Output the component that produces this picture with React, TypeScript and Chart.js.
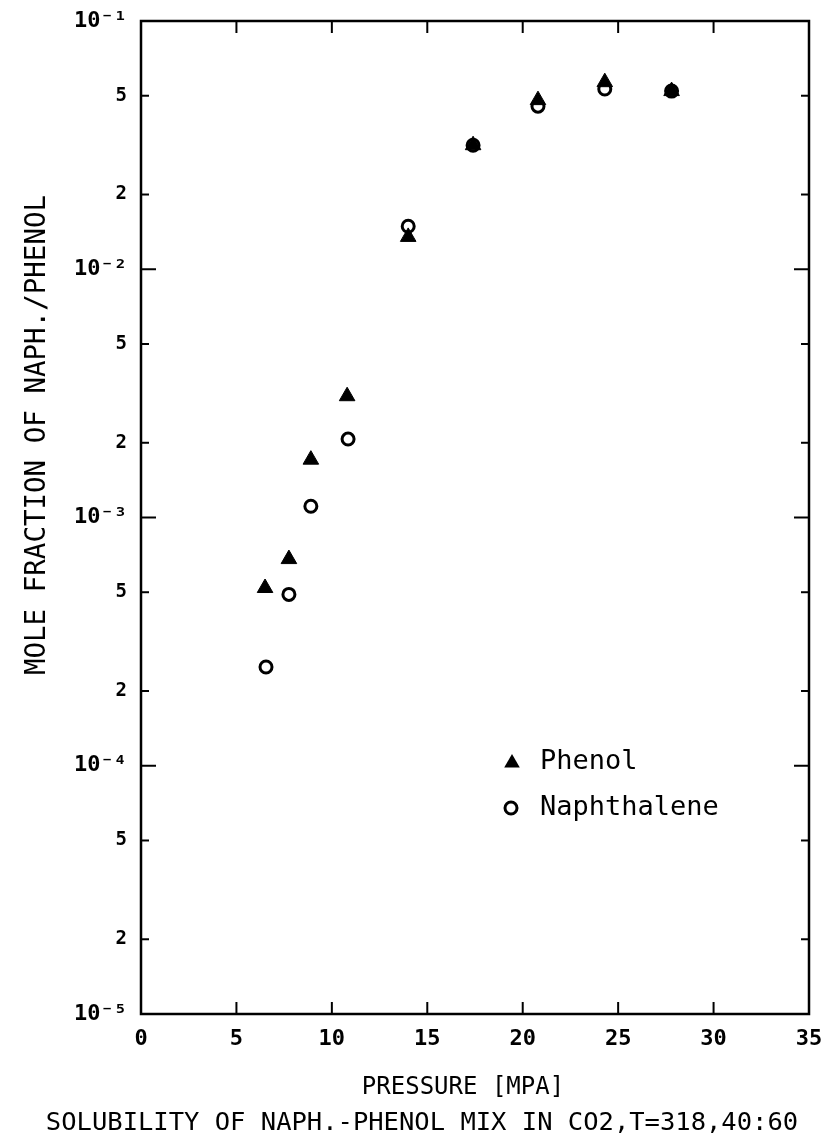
import React, { useEffect, useRef } from 'react';
import { Chart, registerables } from 'chart.js';

Chart.register(...registerables);

// ---- data ----
const phenolPressure = [6.5, 7.75, 8.9, 10.8, 14.0, 17.4, 20.8, 24.3, 27.8];
const phenolFraction = [5.2e-4, 6.8e-4, 1.71e-3, 3.08e-3, 1.35e-2, 3.16e-2, 4.8e-2, 5.67e-2, 5.22e-2];
const naphPressure = [6.55, 7.75, 8.9, 10.85, 14.0, 17.4, 20.8, 24.3, 27.8];
const naphFraction = [2.5e-4, 4.9e-4, 1.11e-3, 2.07e-3, 1.49e-2, 3.16e-2, 4.54e-2, 5.32e-2, 5.22e-2];

const xTicks = [0, 5, 10, 15, 20, 25, 30, 35];
const yTicks = [1e-5, 2e-5, 5e-5, 1e-4, 2e-4, 5e-4, 1e-3, 2e-3, 5e-3, 1e-2, 2e-2, 5e-2, 1e-1];
const yTickLabels = ['10⁻⁵', '2', '5', '10⁻⁴', '2', '5', '10⁻³', '2', '5', '10⁻²', '2', '5', '10⁻¹'];

const seriesLabels = ['Phenol', 'Naphthalene'];
const xTitle = 'PRESSURE [MPA]';
const yTitle = 'MOLE FRACTION OF NAPH./PHENOL';
const caption = 'SOLUBILITY OF NAPH.-PHENOL MIX IN CO2,T=318,40:60';

const MONO = '"DejaVu Sans Mono", "Liberation Mono", monospace';

const isDecade = (v: number) => Math.abs(Math.log10(v) - Math.round(Math.log10(v))) < 1e-6;

function drawTriangle(ctx: CanvasRenderingContext2D, x: number, y: number, r: number) {
  ctx.beginPath();
  for (let i = 0; i < 3; i++) {
    const a = (i * 2 * Math.PI) / 3;
    const px = x + Math.sin(a) * r;
    const py = y - Math.cos(a) * r;
    if (i === 0) ctx.moveTo(px, py);
    else ctx.lineTo(px, py);
  }
  ctx.closePath();
  ctx.fillStyle = '#000';
  ctx.fill();
}

function drawCircle(ctx: CanvasRenderingContext2D, x: number, y: number, r: number) {
  ctx.beginPath();
  ctx.arc(x, y, r, 0, Math.PI * 2);
  ctx.fillStyle = '#fff';
  ctx.fill();
  ctx.lineWidth = 3;
  ctx.strokeStyle = '#000';
  ctx.stroke();
}

const framePlugin = {
  id: 'frameAndText',
  afterDraw(chart: any) {
    const { ctx, chartArea } = chart;
    const { left, right, top, bottom } = chartArea;
    const xs = chart.scales.x;
    const ys = chart.scales.y;
    ctx.save();
    ctx.strokeStyle = '#000';
    ctx.lineWidth = 2.5;
    ctx.strokeRect(left, top, right - left, bottom - top);

    ctx.lineWidth = 2;
    const line = (x1: number, y1: number, x2: number, y2: number) => {
      ctx.beginPath();
      ctx.moveTo(x1, y1);
      ctx.lineTo(x2, y2);
      ctx.stroke();
    };
    xs.ticks.forEach((t: any) => {
      const px = xs.getPixelForValue(t.value);
      if (px <= left + 1 || px >= right - 1) return;
      line(px, bottom, px, bottom - 12);
      line(px, top, px, top + 12);
    });
    ys.ticks.forEach((t: any) => {
      const py = ys.getPixelForValue(t.value);
      if (py <= top + 1 || py >= bottom - 1) return;
      const len = isDecade(t.value) ? 15 : 8;
      line(left, py, left + len, py);
      line(right, py, right - len, py);
    });

    // axis titles and caption
    ctx.fillStyle = '#000';
    ctx.textAlign = 'center';
    ctx.textBaseline = 'middle';
    ctx.font = `24px ${MONO}`;
    ctx.fillText(xTitle, 455, 1080);
    ctx.font = `25.5px ${MONO}`;
    ctx.fillText(caption, 414, 1115);

    ctx.save();
    ctx.translate(30, 427);
    ctx.rotate(-Math.PI / 2);
    ctx.font = `27.5px ${MONO}`;
    ctx.fillText(yTitle, 0, 0);
    ctx.restore();

    // legend
    drawTriangle(ctx, 504, 755, 9);
    drawCircle(ctx, 503, 800, 6);
    ctx.fillStyle = '#000';
    ctx.textAlign = 'left';
    ctx.textBaseline = 'middle';
    ctx.font = `27px ${MONO}`;
    ctx.fillText(seriesLabels[0], 532, 754);
    ctx.fillText(seriesLabels[1], 532, 800);
    ctx.restore();
  },
};

export default function App() {
  const ref = useRef<HTMLCanvasElement>(null);
  useEffect(() => {
    if (!ref.current) return;
    const chart = new Chart(ref.current, {
      type: 'scatter',
      data: {
        datasets: [
          {
            label: seriesLabels[0],
            data: phenolPressure.map((p, i) => ({ x: p, y: phenolFraction[i] })),
            pointStyle: 'triangle',
            pointRadius: 9,
            pointBackgroundColor: '#000',
            pointBorderColor: '#000',
            pointBorderWidth: 1,
            showLine: false,
          },
          {
            label: seriesLabels[1],
            data: naphPressure.map((p, i) => ({ x: p, y: naphFraction[i] })),
            pointStyle: 'circle',
            pointRadius: 6,
            pointBackgroundColor: '#fff',
            pointBorderColor: '#000',
            pointBorderWidth: 3,
            showLine: false,
          },
        ],
      },
      options: {
        animation: false,
        responsive: false,
        devicePixelRatio: 1,
        layout: { padding: { left: 0, top: 13, right: 13, bottom: 0 } },
        plugins: {
          legend: { display: false },
          tooltip: { enabled: false },
          title: { display: false },
        },
        scales: {
          x: {
            type: 'linear',
            min: 0,
            max: 35,
            grid: { display: false, drawTicks: false },
            border: { display: false },
            afterBuildTicks: (scale: any) => {
              scale.ticks = xTicks.map((v) => ({ value: v }));
            },
            afterFit: (scale: any) => {
              scale.height = 120;
              scale.paddingLeft = 0;
              scale.paddingRight = 0;
            },
            ticks: {
              autoSkip: false,
              maxRotation: 0,
              padding: 12,
              color: '#000',
              font: { family: MONO, size: 22, weight: 'bold' },
              callback: (v: any) => String(v),
            },
          },
          y: {
            type: 'logarithmic',
            min: 1e-5,
            max: 1e-1,
            grid: { display: false, drawTicks: false },
            border: { display: false },
            afterBuildTicks: (scale: any) => {
              scale.ticks = yTicks.map((v) => ({ value: v }));
            },
            afterFit: (scale: any) => {
              scale.width = 133;
              scale.paddingTop = 0;
              scale.paddingBottom = 0;
            },
            ticks: {
              autoSkip: false,
              padding: 14,
              color: '#000',
              font: (c: any) => {
                const v = c.tick ? c.tick.value : 1;
                return isDecade(v)
                  ? { family: MONO, size: 22, weight: 'bold' }
                  : { family: MONO, size: 19, weight: 'bold' };
              },
              callback: (_v: any, i: number) => yTickLabels[i],
            },
          },
        },
      },
      plugins: [framePlugin],
    } as any);
    return () => chart.destroy();
  }, []);
  return (
    <div style={{ width: 814, height: 1126 }}>
      <canvas ref={ref} width={814} height={1126} style={{ display: 'block' }} />
    </div>
  );
}
